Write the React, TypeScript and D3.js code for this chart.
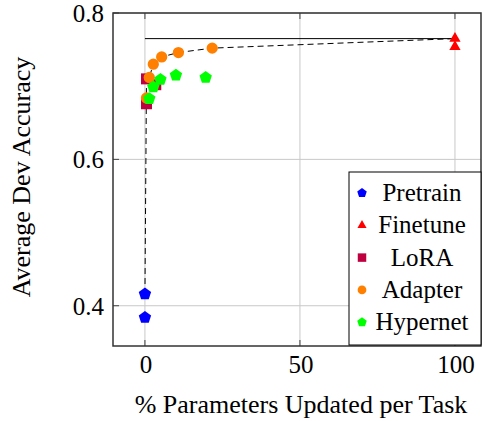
import React, { useEffect } from "react";
import * as d3 from "d3";

// values: [% params updated, avg dev accuracy]
const pretrain: [number, number][] = [
  [0, 0.416],
  [0, 0.384],
];
const finetune: [number, number][] = [
  [100, 0.765],
  [100, 0.754],
];
const lora: [number, number][] = [
  [0.5, 0.676],
  [0.5, 0.71],
  [3.5, 0.702],
];
const adapter: [number, number][] = [
  [0.5, 0.684],
  [1.4, 0.712],
  [2.7, 0.73],
  [5.4, 0.74],
  [10.8, 0.746],
  [21.7, 0.752],
];
const hypernet: [number, number][] = [
  [1.4, 0.683],
  [2.7, 0.699],
  [5, 0.709],
  [10, 0.715],
  [19.6, 0.712],
];
// dashed pareto frontier and the solid finetune reference line
const frontier: [number, number][] = [
  [0, 0.416],
  [0.5, 0.71],
  [1.4, 0.712],
  [2.7, 0.73],
  [5.4, 0.74],
  [10.8, 0.746],
  [21.7, 0.752],
  [100, 0.765],
];
const bestLine: [number, number][] = [
  [0, 0.765],
  [100, 0.765],
];
const xTicks = [0, 50, 100];
const yTicks = [0.4, 0.6, 0.8];

const font = "Liberation Serif, Times New Roman, serif";

const pentagon = (r: number) => {
  const pts = d3.range(5).map((i) => {
    const a = -Math.PI / 2 + (i * 2 * Math.PI) / 5;
    return [r * Math.cos(a), r * Math.sin(a)];
  });
  return "M" + pts.map((p) => p.join(",")).join("L") + "Z";
};

type Series = {
  name: string;
  data: [number, number][];
  color: string;
  shape: (big: boolean) => string;
};

const series: Series[] = [
  { name: "Pretrain", data: pretrain, color: "#0000ff", shape: (b) => pentagon(b ? 6.5 : 5) },
  { name: "Finetune", data: finetune, color: "#ff0000", shape: (b) => d3.symbol(d3.symbolTriangle, b ? 55 : 36)()! },
  { name: "LoRA", data: lora, color: "#bf0040", shape: (b) => d3.symbol(d3.symbolSquare, b ? 121 : 72)()! },
  { name: "Adapter", data: adapter, color: "#ff8000", shape: (b) => d3.symbol(d3.symbolCircle, b ? 100 : 60)()! },
  { name: "Hypernet", data: hypernet, color: "#00ff00", shape: (b) => pentagon(b ? 6.5 : 5) },
];

const T = (props: React.SVGProps<SVGTextElement>) => (
  <text {...props} style={{ fontFamily: font }} fill="#000" />
);

export default function App() {
  useEffect(() => {
    document.body.style.margin = "0";
  }, []);

  const width = 482;
  const height = 421;
  const left = 113;
  const right = 481;
  const top = 13;
  const bottom = 346;

  const x = d3.scaleLinear().domain([-10.3, 108.4]).range([left, right]);
  const y = d3.scaleLinear().domain([0.345, 0.8]).range([bottom, top]);

  const line = d3
    .line<[number, number]>()
    .x((d) => x(d[0]))
    .y((d) => y(d[1]));

  const legend = { x0: 349, y0: 172, x1: 481, y1: 345, rowH: 32.3, first: 193 };

  return (
    <svg width={width} height={height} style={{ display: "block" }}>
      <rect width={width} height={height} fill="#fff" />
      <defs>
        <clipPath id="plot">
          <rect x={left} y={top} width={right - left} height={bottom - top} />
        </clipPath>
      </defs>

      {/* grid */}
      {xTicks.map((t) => (
        <line key={"gx" + t} x1={x(t)} x2={x(t)} y1={top} y2={bottom} stroke="#c8c8c8" strokeWidth={1} />
      ))}
      {yTicks.map((t) => (
        <line key={"gy" + t} x1={left} x2={right} y1={y(t)} y2={y(t)} stroke="#c8c8c8" strokeWidth={1} />
      ))}

      {/* lines */}
      <g clipPath="url(#plot)">
        <path d={line(bestLine)!} fill="none" stroke="#000" strokeWidth={1} />
        <path d={line(frontier)!} fill="none" stroke="#000" strokeWidth={1} strokeDasharray="6,4" />
      </g>

      {/* markers */}
      {series.map((s) =>
        s.data.map((d, i) => (
          <path
            key={s.name + i}
            d={s.shape(true)}
            transform={`translate(${x(d[0])},${y(d[1])})`}
            fill={s.color}
          />
        ))
      )}

      {/* ticks */}
      {xTicks.map((t) => (
        <g key={"tx" + t}>
          <line x1={x(t)} x2={x(t)} y1={bottom} y2={bottom - 6} stroke="#444" />
          <line x1={x(t)} x2={x(t)} y1={top} y2={top + 6} stroke="#444" />
          <T x={x(t) + 1} y={bottom + 27} textAnchor="middle" fontSize={25}>
            {t}
          </T>
        </g>
      ))}
      {yTicks.map((t) => (
        <g key={"ty" + t}>
          <line x1={left} x2={left + 6} y1={y(t)} y2={y(t)} stroke="#444" />
          <T x={left - 9} y={y(t) + 9} textAnchor="end" fontSize={25}>
            {t.toFixed(1)}
          </T>
        </g>
      ))}

      {/* frame */}
      <rect x={left} y={top} width={right - left} height={bottom - top} fill="none" stroke="#333" strokeWidth={1.5} />

      {/* axis labels */}
      <T x={301} y={413} textAnchor="middle" fontSize={26}>
        % Parameters Updated per Task
      </T>
      <T transform={`translate(30,${177}) rotate(-90)`} textAnchor="middle" fontSize={26}>
        Average Dev Accuracy
      </T>

      {/* legend */}
      <rect
        x={legend.x0}
        y={legend.y0}
        width={legend.x1 - legend.x0}
        height={legend.y1 - legend.y0}
        fill="#fff"
        stroke="#000"
        strokeWidth={1}
      />
      {series.map((s, i) => {
        const cy = legend.first + i * legend.rowH;
        return (
          <g key={"lg" + s.name}>
            <path d={s.shape(false)} transform={`translate(362,${cy})`} fill={s.color} />
            <T x={422} y={cy + 8} textAnchor="middle" fontSize={25}>
              {s.name}
            </T>
          </g>
        );
      })}
    </svg>
  );
}
